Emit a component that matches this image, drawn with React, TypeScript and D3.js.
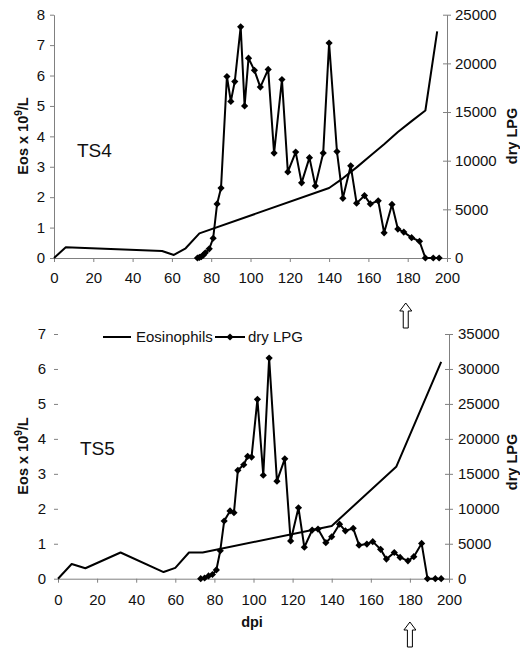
import React, { useEffect, useRef } from 'react';
import * as d3 from 'd3';

// TS4 panel
const ts4EosDpi = [0, 6, 55, 61, 67, 74, 140, 147, 154, 161, 168, 175, 182, 189, 195];
const ts4Eos = [0, 0.35, 0.23, 0.1, 0.32, 0.81, 2.3, 2.62, 2.98, 3.36, 3.74, 4.14, 4.5, 4.85, 7.45];
const ts4LpgDpi = [73, 74, 75, 76, 77, 79, 81, 83, 85, 88, 90, 92, 95, 97, 99, 102, 105, 109, 112, 116, 119, 123, 126, 130, 133, 137, 140, 144, 147, 151, 154, 158, 161, 165, 168, 172, 175, 178, 182, 186, 189, 193, 196];
const ts4Lpg = [0, 60, 150, 300, 530, 940, 2030, 5560, 7190, 18650, 16090, 18130, 23750, 15630, 20530, 19280, 17560, 19380, 10780, 18340, 8840, 10880, 7720, 10310, 7410, 10780, 22090, 10940, 6130, 9470, 5630, 6410, 5560, 5880, 2590, 5500, 2970, 2660, 2090, 1720, 0, 0, 0];

// TS5 panel
const ts5EosDpi = [0, 7, 14, 32, 54, 60, 67, 74, 140, 173, 196];
const ts5Eos = [0, 0.42, 0.3, 0.75, 0.19, 0.31, 0.75, 0.75, 1.51, 3.2, 6.2];
const ts5LpgDpi = [73, 75, 77, 79, 81, 83, 85, 88, 90, 92, 95, 97, 99, 102, 105, 108, 112, 116, 119, 123, 126, 130, 133, 137, 140, 144, 147, 151, 154, 158, 161, 165, 168, 172, 175, 179, 182, 186, 189, 193, 196];
const ts5Lpg = [0, 100, 400, 600, 1250, 4000, 8250, 9700, 9450, 15500, 16300, 17500, 17400, 25650, 14800, 31550, 13950, 17150, 5400, 10150, 4500, 6950, 7100, 5150, 6000, 7800, 6850, 7200, 4800, 4950, 5300, 4200, 2800, 3750, 3050, 2550, 3150, 5050, 0, 0, 0];

const xTicks = [0, 20, 40, 60, 80, 100, 120, 140, 160, 180, 200];
const legendLabels = ['Eosinophils', 'dry LPG'];
const arrowDpi = [179, 180];

const FONT = "'Liberation Sans', Arial, sans-serif";
const AXIS = '#808080';

const diamond = 'M0,-3.6L3.6,0L0,3.6L-3.6,0Z';

const App: React.FC = () => {
  const svgRef = useRef<SVGSVGElement>(null);

  useEffect(() => {
    if (!svgRef.current) return;
    const root = d3.select(svgRef.current);
    root.selectAll('*').remove();

    const panels = [
      {
        name: 'TS4', eosDpi: ts4EosDpi, eos: ts4Eos, lpgDpi: ts4LpgDpi, lpg: ts4Lpg,
        left: 54, right: 447, top: 14.7, bottom: 258,
        eosMax: 8, lpgMax: 25000, leftLine: true, xPad: 10, lPad: 5, rPad: 8,
        nameX: 77, nameY: 157, yTitle: 136, rTitle: 136, arrowTop: 303, showLegend: false, showDpi: false
      },
      {
        name: 'TS5', eosDpi: ts5EosDpi, eos: ts5Eos, lpgDpi: ts5LpgDpi, lpg: ts5Lpg,
        left: 58, right: 449, top: 334, bottom: 578.7,
        eosMax: 7, lpgMax: 35000, leftLine: false, xPad: 12, lPad: 8, rPad: 9,
        nameX: 80, nameY: 455, yTitle: 456, rTitle: 462, arrowTop: 622, showLegend: true, showDpi: true
      }
    ];

    panels.forEach((p, pi) => {
      const g = root.append('g');
      const x = d3.scaleLinear().domain([0, 200]).range([p.left, p.right]);
      const yL = d3.scaleLinear().domain([0, p.eosMax]).range([p.bottom, p.top]);
      const yR = d3.scaleLinear().domain([0, p.lpgMax]).range([p.bottom, p.top]);

      // x axis
      const xAxis = g.append('g')
        .attr('transform', `translate(0,${p.bottom})`)
        .call(d3.axisBottom(x).tickValues(xTicks).tickSize(4).tickSizeOuter(0).tickPadding(p.xPad));
      xAxis.select('.domain').attr('stroke', AXIS);
      xAxis.selectAll('.tick line').attr('stroke', AXIS);
      xAxis.selectAll('text').attr('font-size', 15).attr('font-family', FONT).attr('fill', '#111');

      // left axis
      const lAxis = g.append('g')
        .attr('transform', `translate(${p.left},0)`)
        .call(d3.axisLeft(yL).ticks(p.eosMax).tickSize(4).tickSizeOuter(0).tickPadding(p.lPad));
      if (p.leftLine) lAxis.select('.domain').attr('stroke', AXIS);
      else lAxis.select('.domain').remove();
      lAxis.selectAll('.tick line').attr('stroke', AXIS);
      lAxis.selectAll('text').attr('font-size', 15).attr('font-family', FONT).attr('fill', '#111');

      // right axis, ticks crossing the line
      const rAxis = g.append('g')
        .attr('transform', `translate(${p.right},0)`)
        .call(d3.axisRight(yR).ticks(p.lpgMax / 5000).tickSize(4).tickSizeOuter(0).tickPadding(p.rPad - 4).tickFormat(d3.format('d')));
      rAxis.select('.domain').attr('stroke', AXIS);
      rAxis.selectAll('.tick line').attr('stroke', AXIS).attr('x1', -4).attr('x2', 4);
      rAxis.selectAll('text').attr('font-size', 15).attr('font-family', FONT).attr('fill', '#111');

      // Eosinophils line
      const eosPts = p.eosDpi.map((d, i) => [d, p.eos[i]] as [number, number]);
      g.append('path')
        .datum(eosPts)
        .attr('fill', 'none')
        .attr('stroke', '#000')
        .attr('stroke-width', 2)
        .attr('stroke-linejoin', 'round')
        .attr('d', d3.line<[number, number]>().x(d => x(d[0])).y(d => yL(d[1])));

      // dry LPG line with diamond markers
      const lpgPts = p.lpgDpi.map((d, i) => [d, p.lpg[i]] as [number, number]);
      g.append('path')
        .datum(lpgPts)
        .attr('fill', 'none')
        .attr('stroke', '#000')
        .attr('stroke-width', 2)
        .attr('stroke-linejoin', 'round')
        .attr('d', d3.line<[number, number]>().x(d => x(d[0])).y(d => yR(d[1])));
      g.selectAll('.mk')
        .data(lpgPts)
        .enter()
        .append('path')
        .attr('transform', d => `translate(${x(d[0])},${yR(d[1])})`)
        .attr('d', diamond)
        .attr('fill', '#000');

      // axis titles
      const lt = g.append('text')
        .attr('transform', `translate(28,${p.yTitle}) rotate(-90)`)
        .attr('text-anchor', 'middle')
        .attr('font-family', FONT)
        .attr('font-weight', 'bold')
        .attr('font-size', 14.5)
        .attr('fill', '#111');
      lt.append('tspan').text('Eos x 10');
      lt.append('tspan').attr('font-size', 10).attr('dy', -6).text('9');
      lt.append('tspan').attr('dy', 6).text('/L');

      g.append('text')
        .attr('transform', `translate(517,${p.rTitle}) rotate(-90)`)
        .attr('text-anchor', 'middle')
        .attr('font-family', FONT)
        .attr('font-weight', 'bold')
        .attr('font-size', 14.5)
        .attr('fill', '#111')
        .text('dry LPG');

      // panel name
      g.append('text')
        .attr('x', p.nameX)
        .attr('y', p.nameY)
        .attr('font-family', FONT)
        .attr('font-size', 19)
        .attr('fill', '#111')
        .text(p.name);

      // arrow under the axis
      const ax = x(arrowDpi[pi]);
      const at = p.arrowTop;
      g.append('path')
        .attr('d', `M${ax},${at}L${ax + 6},${at + 8}L${ax + 2.5},${at + 8}L${ax + 2.5},${at + 25}L${ax - 2.5},${at + 25}L${ax - 2.5},${at + 8}L${ax - 6},${at + 8}Z`)
        .attr('fill', '#fff')
        .attr('stroke', '#000')
        .attr('stroke-width', 1);

      if (p.showLegend) {
        const ly = 337;
        g.append('line').attr('x1', 103).attr('x2', 131).attr('y1', ly).attr('y2', ly)
          .attr('stroke', '#000').attr('stroke-width', 2);
        g.append('text').attr('x', 136).attr('y', ly + 5).attr('font-family', FONT)
          .attr('font-size', 15).attr('fill', '#111').text(legendLabels[0]);
        g.append('line').attr('x1', 215).attr('x2', 245).attr('y1', ly).attr('y2', ly)
          .attr('stroke', '#000').attr('stroke-width', 2);
        g.append('path').attr('transform', `translate(230,${ly})`).attr('d', diamond).attr('fill', '#000');
        g.append('text').attr('x', 248).attr('y', ly + 5).attr('font-family', FONT)
          .attr('font-size', 15).attr('fill', '#111').text(legendLabels[1]);
      }

      if (p.showDpi) {
        g.append('text')
          .attr('x', 252)
          .attr('y', 627)
          .attr('text-anchor', 'middle')
          .attr('font-family', FONT)
          .attr('font-weight', 'bold')
          .attr('font-size', 14.5)
          .attr('fill', '#111')
          .text('dpi');
      }
    });
  }, []);

  return (
    <svg
      ref={svgRef}
      width={520}
      height={652}
      style={{ position: 'absolute', left: 0, top: 0, background: '#fff' }}
    />
  );
};

export default App;
